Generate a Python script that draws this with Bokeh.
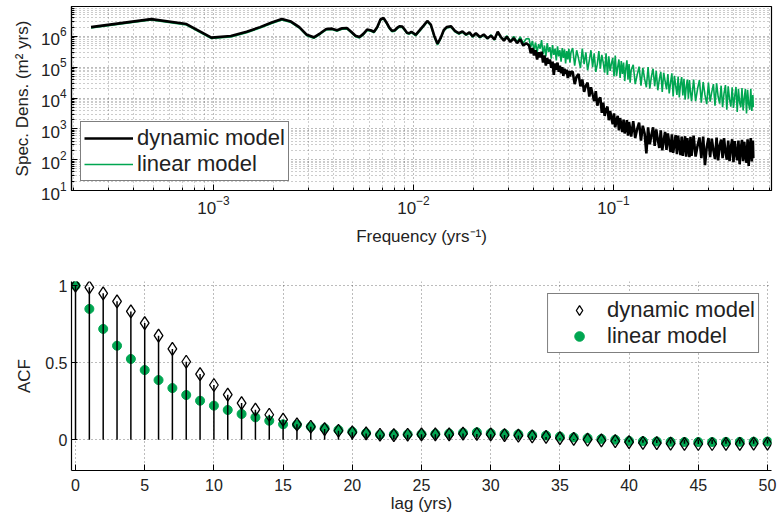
import numpy as np
from bokeh.plotting import figure
from bokeh.layouts import column
from bokeh.models import Legend, LegendItem, FixedTicker, LogTickFormatter
from bokeh.embed import file_html
from bokeh.resources import INLINE

FONT = "Liberation Sans"
GREEN = "#00A651"
TXT = "#222222"

# ---------------- spectral density data ----------------
RECORD_LENGTH_YRS = 4096  # frequencies are harmonics k / record length

k_smooth = [1, 2, 3, 4, 5, 6, 7, 8, 9, 10, 11, 12, 13, 14, 15, 16, 17, 18, 19, 20,
            21, 22, 23, 24, 25, 26, 27, 28, 29, 30, 31, 32, 33, 34, 35, 36, 37, 38, 39, 40]
dyn_log_smooth = [6.30, 6.56, 6.40, 5.96, 6.01, 6.15, 6.30, 6.45, 6.56, 6.48,
                  6.30, 6.05, 5.97, 6.10, 6.24, 6.25, 6.20, 6.26, 6.27, 6.15,
                  6.02, 5.98, 6.08, 6.22, 6.20, 6.15, 6.30, 6.55, 6.60, 6.45,
                  6.28, 6.18, 6.20, 6.28, 6.33, 6.32, 6.22, 6.12, 6.10, 6.15]
lin_log_smooth = [6.27, 6.53, 6.37, 5.93, 5.98, 6.12, 6.27, 6.42, 6.53, 6.45,
                  6.27, 6.02, 5.94, 6.07, 6.21, 6.22, 6.17, 6.23, 6.24, 6.12,
                  5.99, 5.95, 6.05, 6.19, 6.17, 6.12, 6.27, 6.52, 6.57, 6.42,
                  6.25, 6.15, 6.17, 6.25, 6.30, 6.29, 6.19, 6.09, 6.07, 6.12]

k_mid = [42, 44, 46, 48, 50, 52, 54, 56, 58, 60, 63, 66, 69, 72, 75, 78, 81, 84, 88, 92,
         96, 100, 104, 108, 112, 116, 120, 125, 130, 135, 140, 145, 150]
dyn_log_mid = [6.05, 6.20, 6.35, 6.50, 6.38, 6.02, 5.76, 5.95, 6.20, 6.30,
               6.33, 6.18, 6.10, 6.16, 6.06, 6.13, 6.00, 6.10, 5.98, 6.06,
               5.94, 6.02, 5.90, 6.15, 5.98, 5.86, 5.99, 5.82, 5.94, 5.78,
               5.90, 5.70, 5.78]
lin_log_mid = [6.02, 6.17, 6.32, 6.47, 6.35, 5.98, 5.72, 5.92, 6.17, 6.27,
               6.30, 6.15, 6.07, 6.13, 6.03, 6.10, 5.97, 6.08, 5.95, 6.03,
               5.92, 6.05, 5.88, 6.12, 5.95, 5.90, 6.02, 5.84, 6.00, 5.82,
               5.98, 5.78, 5.92]

k_hi_a = [155, 158, 161, 164, 167, 170, 173, 176, 179, 182, 185, 188, 191, 194, 197, 200,
          203, 206, 209, 212, 215, 218, 221, 224, 227, 230, 233, 236, 239, 242, 245, 248, 251]
dyn_log_hi_a = [5.70, 5.45, 5.62, 5.38, 5.55, 5.25, 5.48, 5.32, 5.50, 5.15,
                5.38, 5.05, 5.30, 5.12, 5.25, 4.98, 5.18, 4.75, 5.12, 4.92,
                5.15, 4.85, 5.05, 4.80, 5.00, 4.72, 4.95, 4.78, 4.92, 4.65,
                4.88, 4.70, 4.85]
lin_log_hi_a = [5.92, 5.65, 5.85, 5.55, 5.80, 5.48, 5.75, 5.60, 5.88, 5.42,
                5.70, 5.35, 5.78, 5.50, 5.65, 5.28, 5.72, 5.40, 5.60, 5.22,
                5.68, 5.35, 5.55, 5.18, 5.62, 5.30, 5.58, 5.12, 5.52, 5.25,
                5.60, 5.15, 5.48]

k_hi_b = [256, 262, 268, 274, 280, 286, 292, 298, 304, 310, 316, 322, 328, 334, 340, 346,
          352, 358, 364, 370, 376, 382, 388, 394, 400, 406, 412, 418, 424, 430, 436, 442,
          448, 454, 460, 466, 472, 478, 484, 490, 496, 502]
dyn_log_hi_b = [4.85, 4.45, 4.70, 4.78, 4.38, 4.60, 4.20, 4.40, 4.50, 4.05,
                4.35, 4.12, 3.90, 4.22, 3.75, 3.95, 4.02, 3.52, 3.85, 3.42,
                3.62, 3.72, 3.28, 3.58, 3.35, 3.15, 3.50, 3.05, 3.28, 3.42,
                2.95, 3.35, 3.12, 2.90, 3.30, 2.85, 3.05, 3.28, 2.78, 3.22,
                3.00, 2.75]
lin_log_hi_b = [5.62, 5.05, 5.55, 5.28, 4.98, 5.60, 5.10, 5.48, 4.90, 5.22,
                5.55, 5.00, 5.45, 4.85, 5.10, 5.52, 4.95, 5.40, 5.15, 4.82,
                5.45, 4.75, 5.35, 4.88, 5.12, 5.30, 4.70, 5.38, 4.72, 5.00,
                5.25, 4.65, 5.20, 4.78, 5.15, 4.55, 4.95, 5.22, 4.60, 5.10,
                4.50, 4.90]

k_hi_c = [514, 526, 538, 550, 562, 574, 586, 598, 610, 622, 634, 646, 658, 670, 682, 694,
          706, 718, 730, 742, 754, 766, 778, 790, 802, 814, 826, 838, 850, 862, 874, 886,
          898, 910, 922, 934, 946, 958, 970, 982, 994, 1006]
dyn_log_hi_c = [3.25, 2.70, 3.00, 3.20, 2.62, 3.10, 2.85, 2.20, 3.05, 2.50,
                2.80, 3.05, 2.45, 2.98, 2.65, 2.38, 2.95, 2.30, 2.62, 2.90,
                2.32, 2.85, 2.55, 2.25, 2.82, 2.22, 2.50, 2.80, 2.18, 2.78,
                2.45, 2.15, 2.75, 2.12, 2.48, 2.76, 2.10, 2.70, 2.40, 2.08,
                2.74, 2.12]
lin_log_hi_c = [5.08, 4.45, 4.75, 5.02, 4.40, 4.98, 4.62, 4.35, 5.00, 4.30,
                4.70, 4.95, 4.38, 4.88, 4.25, 4.60, 4.85, 4.20, 4.82, 4.55,
                4.28, 4.78, 4.15, 4.50, 4.80, 4.05, 4.72, 4.40, 4.10, 4.70,
                4.02, 4.45, 4.68, 4.08, 4.62, 3.95, 4.35, 4.60, 3.98, 4.58,
                4.20, 3.90]

k_hi_d = [1030, 1054, 1078, 1102, 1126, 1150, 1174, 1198, 1222, 1246, 1270, 1294, 1318,
          1342, 1366, 1390, 1414, 1438, 1462, 1486, 1510, 1534, 1558, 1582, 1606, 1630,
          1654, 1678, 1702, 1726, 1750, 1774, 1798, 1822, 1846, 1870, 1894, 1918, 1942,
          1966, 1990, 2014, 2038, 2048]
dyn_log_hi_d = [2.78, 2.10, 2.45, 2.72, 2.05, 2.75, 1.82, 2.40, 2.70, 2.08,
                2.68, 2.30, 2.02, 2.72, 1.98, 2.45, 2.65, 2.05, 2.70, 2.25,
                2.00, 2.62, 1.95, 2.40, 2.66, 1.92, 2.60, 2.20, 1.98, 2.62,
                1.85, 2.35, 2.64, 1.95, 2.58, 2.15, 1.90, 2.66, 1.80, 2.40,
                2.70, 1.94, 2.62, 2.05]
lin_log_hi_d = [4.60, 3.90, 4.30, 4.58, 3.85, 4.52, 4.10, 3.80, 4.50, 3.88,
                4.20, 4.45, 3.75, 4.48, 4.05, 3.82, 4.40, 3.70, 4.15, 4.42,
                3.62, 4.38, 3.95, 3.72, 4.35, 3.68, 4.05, 4.36, 3.55, 4.30,
                3.85, 3.70, 4.32, 3.60, 4.00, 4.30, 3.50, 4.27, 3.80, 3.62,
                4.30, 3.58, 4.10, 3.70]

# ---------------- ACF data ----------------
lags = list(range(0, 51))
acf_dynamic = [1.00, 0.989, 0.95, 0.898, 0.833, 0.757, 0.675, 0.589, 0.506, 0.426,
               0.355, 0.292, 0.238, 0.195, 0.162, 0.13, 0.10, 0.084, 0.069, 0.058,
               0.048, 0.041, 0.032, 0.03, 0.032, 0.035, 0.035, 0.035, 0.04, 0.037,
               0.035, 0.03, 0.027, 0.022, 0.018, 0.01, 0.005, 0.0, -0.004, -0.01,
               -0.016, -0.02, -0.022, -0.025, -0.027, -0.028, -0.028, -0.027, -0.027, -0.026,
               -0.025]
acf_linear = [1.00, 0.849, 0.719, 0.61, 0.524, 0.452, 0.387, 0.335, 0.29, 0.253,
              0.221, 0.193, 0.167, 0.145, 0.123, 0.10, 0.097, 0.084, 0.074, 0.063,
              0.052, 0.043, 0.032, 0.035, 0.035, 0.036, 0.038, 0.04, 0.045, 0.048,
              0.042, 0.038, 0.035, 0.03, 0.027, 0.02, 0.015, 0.01, 0.005, 0.0,
              -0.008, -0.01, -0.012, -0.014, -0.015, -0.015, -0.015, -0.014, -0.014, -0.013,
              -0.012]

# ---------------- assemble spectra ----------------
k_all = np.array(k_smooth + k_mid + k_hi_a + k_hi_b + k_hi_c + k_hi_d, dtype=float)
freq = k_all / RECORD_LENGTH_YRS
dyn_spec = 10.0 ** np.array(dyn_log_smooth + dyn_log_mid + dyn_log_hi_a + dyn_log_hi_b
                            + dyn_log_hi_c + dyn_log_hi_d)
lin_spec = 10.0 ** np.array(lin_log_smooth + lin_log_mid + lin_log_hi_a + lin_log_hi_b
                            + lin_log_hi_c + lin_log_hi_d)


def style_axes(p, tick_size):
    for ax in p.axis:
        ax.major_label_text_font = FONT
        ax.major_label_text_font_size = tick_size
        ax.major_label_text_color = TXT
        ax.axis_label_text_font = FONT
        ax.axis_label_text_font_size = "17px"
        ax.axis_label_text_font_style = "normal"
        ax.axis_label_text_color = TXT
        ax.axis_line_color = "black"
        ax.axis_line_width = 1.2
        ax.major_tick_in = 6
        ax.major_tick_out = 0
        ax.minor_tick_in = 3
        ax.minor_tick_out = 0
        ax.major_tick_line_color = "black"
        ax.minor_tick_line_color = "black"


# frames of both panels: x from 71 to 771 px
# ---------------- top: spectral density ----------------
p1 = figure(width=779, height=262, x_axis_type="log", y_axis_type="log",
            x_range=(1.95e-4, 0.6166), y_range=(10, 9.3e6),
            output_backend="svg", toolbar_location=None,
            min_border_left=71, min_border_right=8, min_border_top=6, min_border_bottom=72)
p1.background_fill_color = "white"
p1.border_fill_color = "white"
p1.outline_line_color = "black"
p1.outline_line_width = 1.2

x_major = [1e-3, 1e-2, 1e-1]
x_minor = [m * 10.0 ** e for e in range(-4, 0) for m in range(2, 10)]
y_major = [1e1, 1e2, 1e3, 1e4, 1e5, 1e6]
y_minor = [m * 10.0 ** e for e in range(1, 7) for m in range(2, 10)]
p1.xaxis.ticker = FixedTicker(ticks=x_major, minor_ticks=x_minor)
p1.yaxis.ticker = FixedTicker(ticks=y_major, minor_ticks=y_minor)
p1.xaxis.formatter = LogTickFormatter()
p1.yaxis.formatter = LogTickFormatter()

for g in (p1.xgrid, p1.ygrid):
    g.grid_line_color = "#333333"
    g.grid_line_alpha = 0.65
    g.grid_line_dash = "1 3"
    g.minor_grid_line_color = "#333333"
    g.minor_grid_line_alpha = 0.5
    g.minor_grid_line_dash = "1 3"

r_lin = p1.line(freq, lin_spec, line_color=GREEN, line_width=1.6)
r_dyn = p1.line(freq, dyn_spec, line_color="black", line_width=2.6)

p1.xaxis.axis_label = "Frequency (yrs\u207b\u00b9)"
p1.yaxis.axis_label = "Spec. Dens. (m\u00b2 yrs)"
style_axes(p1, "17px")
p1.xaxis.axis_label_standoff = 10
p1.yaxis.axis_label_standoff = 6

leg1 = Legend(items=[LegendItem(label="dynamic model", renderers=[r_dyn]),
                     LegendItem(label="linear model", renderers=[r_lin])],
              location="bottom_left", margin=9, padding=3, spacing=0,
              glyph_width=49, glyph_height=24, label_height=24, label_standoff=4,
              label_text_font=FONT, label_text_font_size="22px", label_text_color=TXT,
              border_line_color="black", border_line_width=1.3,
              background_fill_color="white", background_fill_alpha=1.0)
p1.add_layout(leg1)

# ---------------- bottom: ACF ----------------
p2 = figure(width=779, height=263, x_range=(-0.29, 50.29), y_range=(-0.2, 1.027),
            output_backend="svg", toolbar_location=None,
            min_border_left=71, min_border_right=8, min_border_top=19, min_border_bottom=55)
p2.background_fill_color = "white"
p2.border_fill_color = "white"
p2.outline_line_color = None

p2.xaxis.ticker = FixedTicker(ticks=list(range(0, 51, 5)))
p2.yaxis.ticker = FixedTicker(ticks=[0, 0.5, 1])
p2.yaxis.major_label_overrides = {0: "0", 0.5: "0.5", 1: "1"}

for g in (p2.xgrid, p2.ygrid):
    g.grid_line_color = "#333333"
    g.grid_line_alpha = 0.65
    g.grid_line_dash = "1 3"

r_lin_acf = p2.scatter(lags, acf_linear, marker="circle", size=9,
                       fill_color=GREEN, line_color=GREEN)
p2.segment(x0=lags, y0=[0] * len(lags), x1=lags, y1=acf_dynamic,
           line_color="black", line_width=1.5)
r_dyn_acf = p2.scatter(lags, acf_dynamic, marker="diamond", size=13,
                       fill_color=None, line_color="black", line_width=1.3)

p2.xaxis.axis_label = "lag (yrs)"
p2.yaxis.axis_label = "ACF"
style_axes(p2, "16px")
p2.xaxis.minor_tick_in = 0
p2.yaxis.minor_tick_in = 0
p2.xaxis.major_label_standoff = 8
p2.xaxis.axis_label_standoff = 0
p2.yaxis.major_label_standoff = 4
p2.yaxis.axis_label_standoff = 8

leg2 = Legend(items=[LegendItem(label="dynamic model", renderers=[r_dyn_acf]),
                     LegendItem(label="linear model", renderers=[r_lin_acf])],
              location="top_right", margin=12, padding=3, spacing=0,
              glyph_width=56, glyph_height=24, label_height=24, label_standoff=0,
              label_text_font=FONT, label_text_font_size="22px", label_text_color=TXT,
              border_line_color="black", border_line_width=1.3,
              background_fill_color="white", background_fill_alpha=1.0)
p2.add_layout(leg2)

layout = column(p1, p2, spacing=0)
open("out.html", "w").write(file_html(layout, INLINE))
